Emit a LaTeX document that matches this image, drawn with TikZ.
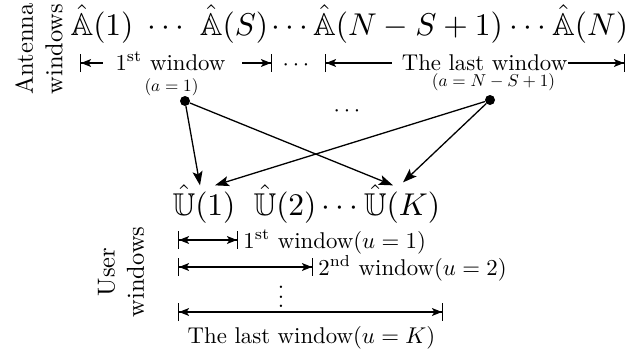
\documentclass[tikz,border=0pt]{standalone}
\usepackage{amssymb}
\usetikzlibrary{arrows.meta,calc}
\begin{document}
\begin{tikzpicture}[x=1pt,y=-1pt,
  big/.style={font=\fontsize{10}{12}\selectfont, scale=3.15, transform shape, inner sep=0pt, anchor=base},
  mid/.style={font=\fontsize{10}{12}\selectfont, scale=2.28, transform shape, inner sep=0pt, anchor=base},
  small/.style={font=\fontsize{10}{12}\selectfont, scale=1.72, transform shape, inner sep=0pt, anchor=base},
  side/.style={font=\fontsize{10}{12}\selectfont, scale=2.45, transform shape, rotate=90, align=center, inner sep=0pt},
  dimboth/.style={line width=1.1pt, {Bar[width=18pt,line width=1.1pt]Stealth[length=10pt,width=8pt,inset=2.5pt]}-{Stealth[length=10pt,width=8pt,inset=2.5pt]Bar[width=18pt,line width=1.1pt]}},
  dimleft/.style={line width=1.1pt, {Bar[width=18pt,line width=1.1pt]Stealth[length=10pt,width=8pt,inset=2.5pt]}-},
  dimright/.style={line width=1.1pt, -{Stealth[length=10pt,width=8pt,inset=2.5pt]Bar[width=18pt,line width=1.1pt]}},
  dotnode/.style={circle, fill=black, inner sep=0pt, minimum size=10pt},
  conn/.style={line width=1.3pt, -{Stealth[length=14pt,width=10pt,inset=3pt]}}
]
\useasboundingbox (0,0) rectangle (643,354);

% side labels
\node[side] (ant) at (39,49) {Antenna\\windows};
\node[side] (usr) at (121,272) {User\\windows};

% top row
\node[big] (A1) at (102,35) {$\hat{\mathbb{A}}(1)$};
\node[big] (d1) at (166,35) {$\cdots$};
\node[big] (AS) at (234,35) {$\hat{\mathbb{A}}(S)$};
\node[big] (d2) at (290,35) {$\cdots$};
\node[big] (ANS) at (408,35) {$\hat{\mathbb{A}}(N-S+1)$};
\node[big] (d3) at (528,35) {$\cdots$};
\node[big] (AN) at (590,35) {$\hat{\mathbb{A}}(N)$};

% antenna window dimension lines
\coordinate (a1l) at (80,63);
\coordinate (a1m) at (103,63);
\node[mid] (w1) at (170.5,70) {1\textsuperscript{st} window};
\coordinate (a1n) at (242,63);
\coordinate (a1r) at (272,63);
\node[mid] (d5) at (296,70) {$\cdots$};
\coordinate (a2l) at (325,63);
\coordinate (a2m) at (392,63);
\node[mid] (w2) at (484.5,70) {The last window};
\coordinate (a2n) at (568,63);
\coordinate (a2r) at (625,63);
\draw[dimleft] (a1l) -- (a1m);
\draw[dimright] (a1n) -- (a1r);
\draw[dimleft] (a2l) -- (a2m);
\draw[dimright] (a2n) -- (a2r);
\node[small] (s1) at (171.5,91) {$(a=1)$};
\node[small] (s2) at (493.5,86) {$(a=N-S+1)$};

% dots
\node[dotnode] (p1) at (185,101) {};
\node[dotnode] (p2) at (490,100) {};
\node[mid] (dm) at (347,116) {$\cdots$};

% user row
\node[big] (U1) at (204,215) {$\hat{\mathbb{U}}(1)$};
\node[big] (U2) at (285,215) {$\hat{\mathbb{U}}(2)$};
\node[big] (d4) at (340,215) {$\cdots$};
\node[big] (UK) at (402,215) {$\hat{\mathbb{U}}(K)$};

% connectors
\draw[conn] (p1) -- ($(U1.north)+(-4,1)$);
\draw[conn] (p1) -- ($(UK.north)+(-9,1)$);
\draw[conn] (p2) -- ($(U1.north)+(11,1)$);
\draw[conn] (p2) -- ($(UK.north)+(1,-2)$);

% user window dimension lines
\coordinate (u1l) at (178,240);
\coordinate (u1r) at (238,240);
\draw[dimboth] (u1l) -- (u1r);
\node[mid, anchor=base west] (l1) at (243,248) {1\textsuperscript{st} window($u=1$)};
\coordinate (u2l) at (178,267);
\coordinate (u2r) at (313,267);
\draw[dimboth] (u2l) -- (u2r);
\node[mid, anchor=base west] (l2) at (318,275) {2\textsuperscript{nd} window($u=2$)};
\node[mid, anchor=center] (vd) at (281,290) {$\vdots$};
\coordinate (u3l) at (178,312);
\coordinate (u3r) at (443,312);
\draw[dimboth] (u3l) -- (u3r);
\node[mid] (l3) at (311.5,343) {The last window($u=K$)};
\end{tikzpicture}
\end{document}
